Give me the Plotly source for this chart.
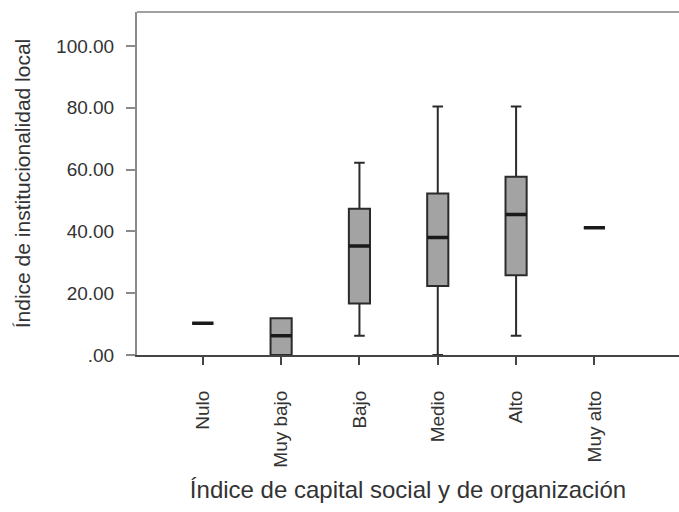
import plotly.graph_objects as go

categories = ["Nulo", "Muy bajo", "Bajo", "Medio", "Alto", "Muy alto"]
lower_fence = [10.3, 0.0, 6.2, 0.0, 6.2, 41.2]
q1 = [10.3, 0.0, 16.7, 22.3, 25.8, 41.2]
median = [10.3, 6.2, 35.3, 38.0, 45.5, 41.2]
q3 = [10.3, 11.9, 47.3, 52.3, 57.7, 41.2]
upper_fence = [10.3, 11.9, 62.2, 80.4, 80.4, 41.2]

y_tick_vals = [0, 20, 40, 60, 80, 100]
y_tick_text = [".00", "20.00", "40.00", "60.00", "80.00", "100.00"]

fig = go.Figure()
fig.add_trace(go.Box(
    x=categories,
    q1=q1, median=median, q3=q3,
    lowerfence=lower_fence, upperfence=upper_fence,
    fillcolor="#a3a3a3",
    line=dict(color="#2b2b2b", width=2),
    width=0.27,
    whiskerwidth=0.5,
    boxpoints=False,
    hoverinfo="skip",
))
# thicker median lines (degenerate boxes at the median)
fig.add_trace(go.Box(
    x=categories,
    q1=median, median=median, q3=median,
    lowerfence=median, upperfence=median,
    fillcolor="rgba(0,0,0,0)",
    line=dict(color="#1a1a1a", width=3.5),
    width=0.27,
    whiskerwidth=0.5,
    boxpoints=False,
    hoverinfo="skip",
))

font_family = "Liberation Sans, Arial, sans-serif"

fig.update_layout(
    width=679, height=512,
    margin=dict(l=137, r=0, t=12, b=157),
    plot_bgcolor="white", paper_bgcolor="white",
    showlegend=False,
    boxmode="overlay",
    font=dict(family=font_family, color="#333333"),
    xaxis=dict(
        type="category",
        categoryorder="array", categoryarray=categories,
        range=[-0.84, 6.08],
        automargin=False,
        showgrid=False, zeroline=False,
        showline=True, linecolor="#444444", linewidth=2,
        ticks="outside", ticklen=8, tickwidth=2, tickcolor="#444444",
        tickangle=-90,
        tickfont=dict(size=19, color="#333333"),
        ticklabelstandoff=18,
        title=dict(text="Índice de capital social y de organización",
                   font=dict(size=24, color="#333333"), standoff=14),
    ),
    yaxis=dict(
        range=[0, 111],
        automargin=False,
        showgrid=False, zeroline=False,
        showline=True, linecolor="#8a8a8a", linewidth=2,
        ticks="outside", ticklen=9, tickwidth=2, tickcolor="#8a8a8a",
        tickvals=y_tick_vals, ticktext=y_tick_text,
        tickfont=dict(size=19, color="#333333"),
        ticklabelstandoff=8,
        title=dict(text="Índice de institucionalidad local",
                   font=dict(size=21, color="#333333"), standoff=20),
    ),
    shapes=[dict(type="line", xref="paper", yref="paper",
                 x0=0, x1=1, y0=1, y1=1,
                 line=dict(color="#a0a0a0", width=2))],
)

fig.write_html(
    "out.html",
    config={"displayModeBar": False},
    post_script="document.body.style.margin='0';document.body.style.overflow='hidden';",
)
